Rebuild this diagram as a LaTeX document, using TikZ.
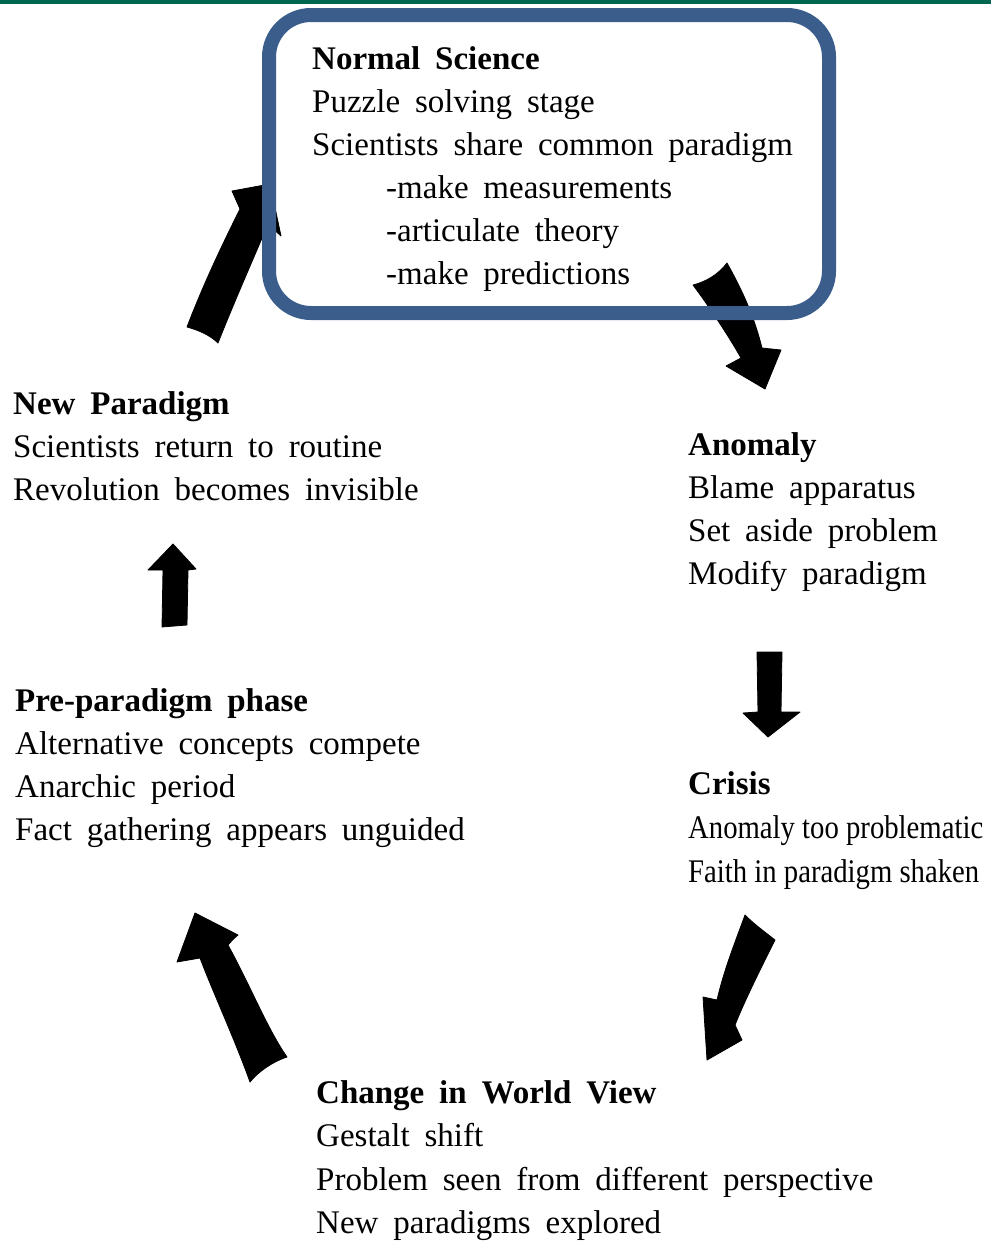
\documentclass[tikz,border=0pt]{standalone}
\usepackage{fontspec}
\setmainfont{Liberation Serif}[WordSpace=1.8]
\newfontfamily\narrowserif{Liberation Serif}[FakeStretch=0.87]
\definecolor{bargreen}{RGB}{0,102,80}
\definecolor{boxblue}{RGB}{58,93,140}
\begin{document}
\begin{tikzpicture}[x=1pt,y=-1pt,
  stage/.style={anchor=north west,inner sep=0pt,align=left,
    font=\fontsize{33}{43}\selectfont},
  blockarrow/.style={fill=black,draw=black,line width=0.8pt,line join=round},
  frame/.style={draw=boxblue,line width=14pt,rounded corners=42pt}]
\useasboundingbox (0,0) rectangle (991,1242);
\fill[white] (0,0) rectangle (991,1242);
% top rule
\fill[bargreen] (0,0) rectangle (991,4);

% stage texts
\node[stage] (normal) at (312,38.9) {\strut\textbf{Normal Science}\\
  Puzzle solving stage\\
  Scientists share common paradigm\\
  \hspace*{74pt}-make measurements\\
  \hspace*{74pt}-articulate theory\\
  \hspace*{74pt}-make predictions};
\node[stage] (newpar) at (13,383.9) {\strut\textbf{New Paradigm}\\
  Scientists return to routine\\
  Revolution becomes invisible};
\node[stage] (anomaly) at (688,424.9) {\strut\textbf{Anomaly}\\
  Blame apparatus\\
  Set aside problem\\
  Modify paradigm};
\node[stage] (prepar) at (15,680.9) {\strut\textbf{Pre-paradigm phase}\\
  Alternative concepts compete\\
  Anarchic period\\
  Fact gathering appears unguided};
\node[stage,font=\fontsize{33}{44}\selectfont] (crisis) at (688,763.9) {\strut\textbf{Crisis}\\
  {\narrowserif Anomaly too problematic}\\
  {\narrowserif Faith in paradigm shaken}};
\node[stage,font=\fontsize{33}{43.5}\selectfont] (change) at (316,1072.6) {\strut\textbf{Change in World View}\\
  Gestalt shift\\
  Problem seen from different perspective\\
  New paradigms explored};

% block arrows of the cycle
% new paradigm -> normal science
\filldraw[blockarrow] (187,327) .. controls (203,285) and (222,245) .. (240,209)
  -- (232,191) -- (270,184) -- (281,236) -- (268,224)
  .. controls (255,255) and (235,300) .. (218,343)
  .. controls (210,335) and (198,330) .. (187,327) -- cycle;
% normal science -> anomaly
\filldraw[blockarrow] (693,285) .. controls (705,282) and (718,275) .. (727,263)
  .. controls (745,295) and (755,320) .. (762,348) -- (781,350) -- (765,389)
  -- (726,366) -- (741,358) .. controls (728,335) and (708,305) .. (693,285) -- cycle;
% anomaly -> crisis
\filldraw[blockarrow] (757,652) -- (782,652) -- (781,712) -- (800,712)
  -- (768,737) -- (743,713) -- (758,712) -- cycle;
% crisis -> change in world view
\filldraw[blockarrow] (745,915) .. controls (755,925) and (765,932) .. (775,940)
  .. controls (760,970) and (745,1000) .. (735,1025) -- (742,1040) -- (707,1060)
  -- (703,997) -- (717,1000) .. controls (724,970) and (734,945) .. (745,915) -- cycle;
% change in world view -> pre-paradigm phase
\filldraw[blockarrow] (195,913) -- (238,935) .. controls (232,940) and (230,943) .. (228,945)
  .. controls (250,985) and (268,1030) .. (287,1057)
  .. controls (272,1062) and (258,1072) .. (250,1082)
  .. controls (235,1040) and (212,990) .. (200,958) -- (177,962) -- cycle;
% pre-paradigm phase -> new paradigm
\filldraw[blockarrow] (162,627) -- (163,570) -- (148,570) -- (173,544)
  -- (196,569) -- (188,570) -- (187,625) -- cycle;

% frame round normal science
\draw[frame] (269,15) rectangle (829,313);
\end{tikzpicture}
\end{document}
